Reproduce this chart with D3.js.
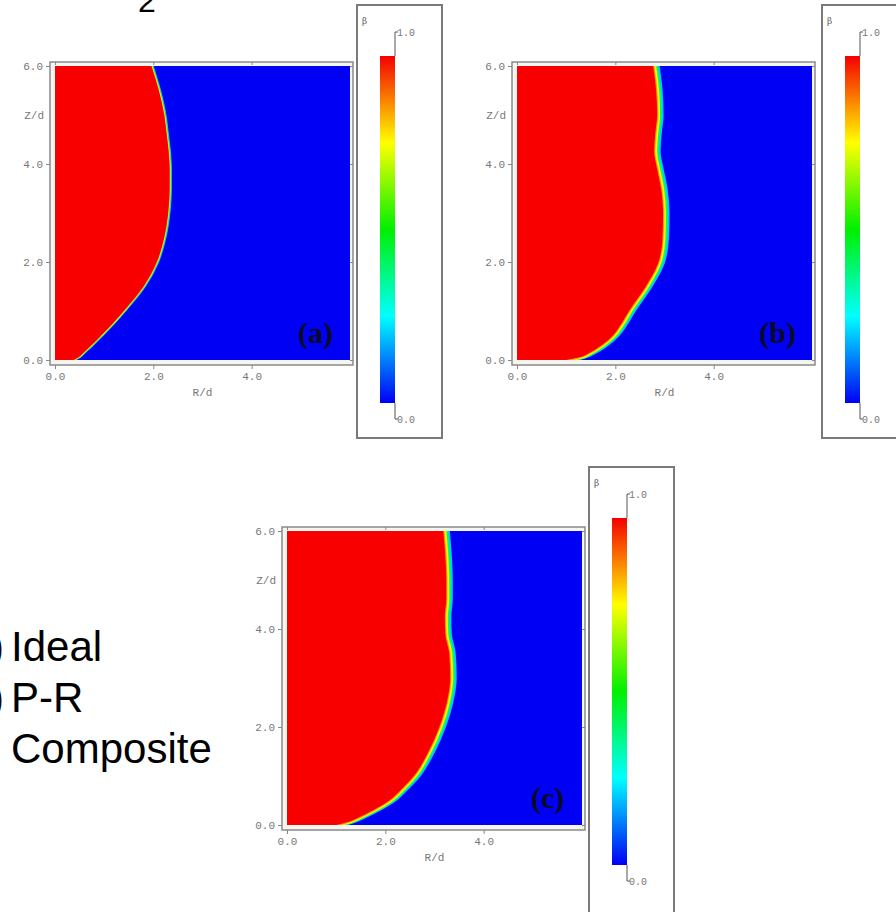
<!DOCTYPE html>
<html>
<head>
<meta charset="utf-8">
<script src="https://cdn.jsdelivr.net/npm/d3@7"></script>
<style>
body { margin: 0; background: #fff; }
svg { display: block; }
.tick text { font-family: "Liberation Mono", "DejaVu Sans Mono", monospace; font-size: 11px; fill: #777; }
.tick line { stroke: #888; }
.domain { display: none; }
.axisLabel { font-family: "Liberation Mono", "DejaVu Sans Mono", monospace; font-size: 11px; fill: #777; }
.legendText { font-family: "Liberation Sans", Arial, sans-serif; font-size: 42px; fill: #000; }
</style>
</head>
<body>
<svg width="896" height="912"></svg>
<script>
// boundary of the beta = 1 region (R/d at each Z/d)
var zLevels    = [0, 0.05, 0.15, 0.3, 0.5, 0.75, 1.0, 1.5, 2.0, 2.5, 3.0, 3.5, 3.9, 4.25, 4.6, 5.0, 5.5, 6.0];
var rIdeal     = [0.38, 0.47, 0.58, 0.74, 0.94, 1.18, 1.40, 1.80, 2.07, 2.22, 2.30, 2.33, 2.33, 2.31, 2.27, 2.22, 2.11, 1.96];
var rPR        = [1.00, 1.25, 1.48, 1.72, 1.95, 2.13, 2.28, 2.62, 2.88, 2.96, 2.97, 2.93, 2.85, 2.79, 2.81, 2.85, 2.83, 2.77];
var rComposite = [1.00, 1.20, 1.45, 1.75, 2.08, 2.35, 2.58, 2.88, 3.10, 3.25, 3.32, 3.30, 3.22, 3.21, 3.24, 3.24, 3.22, 3.18];

var xTicks = [0, 2, 4];
var yTicks = [0, 2, 4, 6];
var panelLetters = ["(a)", "(b)", "(c)"];
var legendLabels = ["Ideal", "P-R", "Composite"];

// colour bar (jet)
var cbValues = [0, 0.25, 0.5, 0.75, 1];
var cbColors = ["#0000f5", "#00ffff", "#00f000", "#ffff00", "#f50000"];
var cbTicks = [0, 1];

var svg = d3.select("svg");
var defs = svg.append("defs");

var grad = defs.append("linearGradient")
	.attr("id", "jet")
	.attr("x1", 0).attr("y1", 1)
	.attr("x2", 0).attr("y2", 0);
cbValues.forEach(function(v, i) {
	grad.append("stop").attr("offset", v).attr("stop-color", cbColors[i]);
});

var plotW = 295, plotH = 294;

var panels = [
	{ r: rIdeal,     px: 55,  py: 66,  bx: 357, by: 5,   bh: 433, bw: 1.8 },
	{ r: rPR,        px: 517, py: 66,  bx: 822, by: 5,   bh: 433, bw: 5 },
	{ r: rComposite, px: 287, py: 531, bx: 589, by: 467, bh: 470, bw: 5 }
];

function fmt(d) { return d3.format(".1f")(d); }

panels.forEach(function(p, i) {
	var g = svg.append("g").attr("class", "panel" + i);
	var x = d3.scaleLinear().domain([0, 6]).range([p.px, p.px + plotW]);
	var y = d3.scaleLinear().domain([0, 6]).range([p.py + plotH, p.py]);
	var pts = zLevels.map(function(z, k) { return { z: z, r: p.r[k] }; });

	// frame
	g.append("rect")
		.attr("x", p.px - 5).attr("y", p.py - 4)
		.attr("width", plotW + 8).attr("height", plotH + 9)
		.style("fill", "#f6f6f0")
		.style("stroke", "#8a8a8a")
		.style("stroke-width", 1.5);

	defs.append("clipPath").attr("id", "clip" + i)
		.append("rect")
		.attr("x", p.px).attr("y", p.py)
		.attr("width", plotW).attr("height", plotH);

	var field = g.append("g").attr("clip-path", "url(#clip" + i + ")");
	field.append("rect")
		.attr("x", p.px).attr("y", p.py)
		.attr("width", plotW).attr("height", plotH)
		.style("fill", "#0000f5");

	var line = d3.line()
		.x(function(d) { return x(d.r); })
		.y(function(d) { return y(d.z); })
		.curve(d3.curveMonotoneY);

	// transition band outside the boundary
	var layers = [
		{ dx: p.bw,        c: "#00c8ff", w: p.bw * 0.6 },
		{ dx: p.bw * 0.6,  c: "#00ff60", w: p.bw * 0.7 },
		{ dx: p.bw * 0.25, c: "#ffee00", w: p.bw * 0.7 },
		{ dx: 0,           c: "#ff9000", w: p.bw * 0.4 }
	];
	layers.forEach(function(l) {
		field.append("path")
			.datum(pts)
			.attr("d", line)
			.attr("transform", "translate(" + l.dx + ",0)")
			.style("fill", "none")
			.style("stroke", l.c)
			.style("stroke-width", l.w);
	});

	var area = d3.area()
		.y(function(d) { return y(d.z); })
		.x0(x(0))
		.x1(function(d) { return x(d.r); })
		.curve(d3.curveMonotoneY);
	field.append("path")
		.datum(pts)
		.attr("d", area)
		.style("fill", "#f80000");

	// axes
	g.append("g")
		.attr("transform", "translate(" + (p.px - 5) + ",0)")
		.call(d3.axisLeft(y).tickValues(yTicks).tickFormat(fmt).tickSize(4).tickPadding(3));
	g.append("g")
		.attr("transform", "translate(0," + (p.py + plotH + 5) + ")")
		.call(d3.axisBottom(x).tickValues(xTicks).tickFormat(fmt).tickSize(4).tickPadding(3));
	g.append("g")
		.attr("transform", "translate(0," + (p.py - 4) + ")")
		.call(d3.axisTop(x).tickValues(xTicks).tickFormat("").tickSize(-3));
	g.append("g")
		.attr("transform", "translate(" + (p.px + plotW + 3) + ",0)")
		.call(d3.axisRight(y).tickValues(yTicks).tickFormat("").tickSize(-3));

	g.append("text")
		.attr("class", "axisLabel")
		.attr("x", p.px - 11)
		.attr("y", y(5))
		.attr("dy", "0.32em")
		.style("text-anchor", "end")
		.text("Z/d");
	g.append("text")
		.attr("class", "axisLabel")
		.attr("x", x(3))
		.attr("y", p.py + plotH + 36)
		.style("text-anchor", "middle")
		.text("R/d");

	g.append("text")
		.attr("x", x(5.3))
		.attr("y", y(0.57))
		.attr("dy", "0.35em")
		.style("text-anchor", "middle")
		.style("font-family", "'Liberation Serif', 'Times New Roman', serif")
		.style("font-weight", "bold")
		.style("font-size", "30px")
		.style("fill", "#0a0a28")
		.text(panelLetters[i]);

	// colour bar box
	g.append("rect")
		.attr("x", p.bx).attr("y", p.by)
		.attr("width", 85).attr("height", p.bh)
		.style("fill", "#fff")
		.style("stroke", "#7a7a7a")
		.style("stroke-width", 2);
	g.append("text")
		.attr("x", p.bx + 5)
		.attr("y", p.by + 19)
		.style("font-family", "'DejaVu Serif', serif")
		.style("font-size", "9px")
		.style("fill", "#555")
		.text("\u03b2");

	var barX = p.bx + 23, barW = 15, barTop = p.by + 51, barH = 347;
	var cb = d3.scaleLinear().domain([0, 1]).range([barTop + barH, barTop]);
	g.append("rect")
		.attr("x", barX).attr("y", cb(1))
		.attr("width", barW).attr("height", cb(0) - cb(1))
		.style("fill", "url(#jet)");

	cbTicks.forEach(function(v) {
		var dir = v === 1 ? -1 : 1;
		var y0 = cb(v), y1 = cb(v) + dir * (v === 1 ? 24 : 16);
		g.append("path")
			.attr("d", "M" + (barX + barW) + "," + y0 + " V" + y1 + " h3")
			.style("fill", "none")
			.style("stroke", "#555")
			.style("stroke-width", 1);
		g.append("text")
			.attr("class", "axisLabel")
			.attr("x", barX + barW + 2)
			.attr("y", y1 + 4)
			.style("font-size", "10px")
			.text(fmt(v));
	});
});

// left-hand legend text (partly cut off in the source)
var legendY = d3.scalePoint().domain(legendLabels).range([661, 763]);
legendLabels.forEach(function(t, i) {
	svg.append("text")
		.attr("class", "legendText")
		.attr("x", 11)
		.attr("y", legendY(t))
		.text(t);
	if (i < 2) {
		svg.append("text")
			.attr("class", "legendText")
			.attr("x", 4)
			.attr("y", legendY(t))
			.style("text-anchor", "end")
			.text(panelLetters[i]);
	}
});

svg.append("text")
	.attr("x", 138)
	.attr("y", 12)
	.style("font-family", "'Liberation Sans', Arial, sans-serif")
	.style("font-size", "32px")
	.text("2");
</script>
</body>
</html>
